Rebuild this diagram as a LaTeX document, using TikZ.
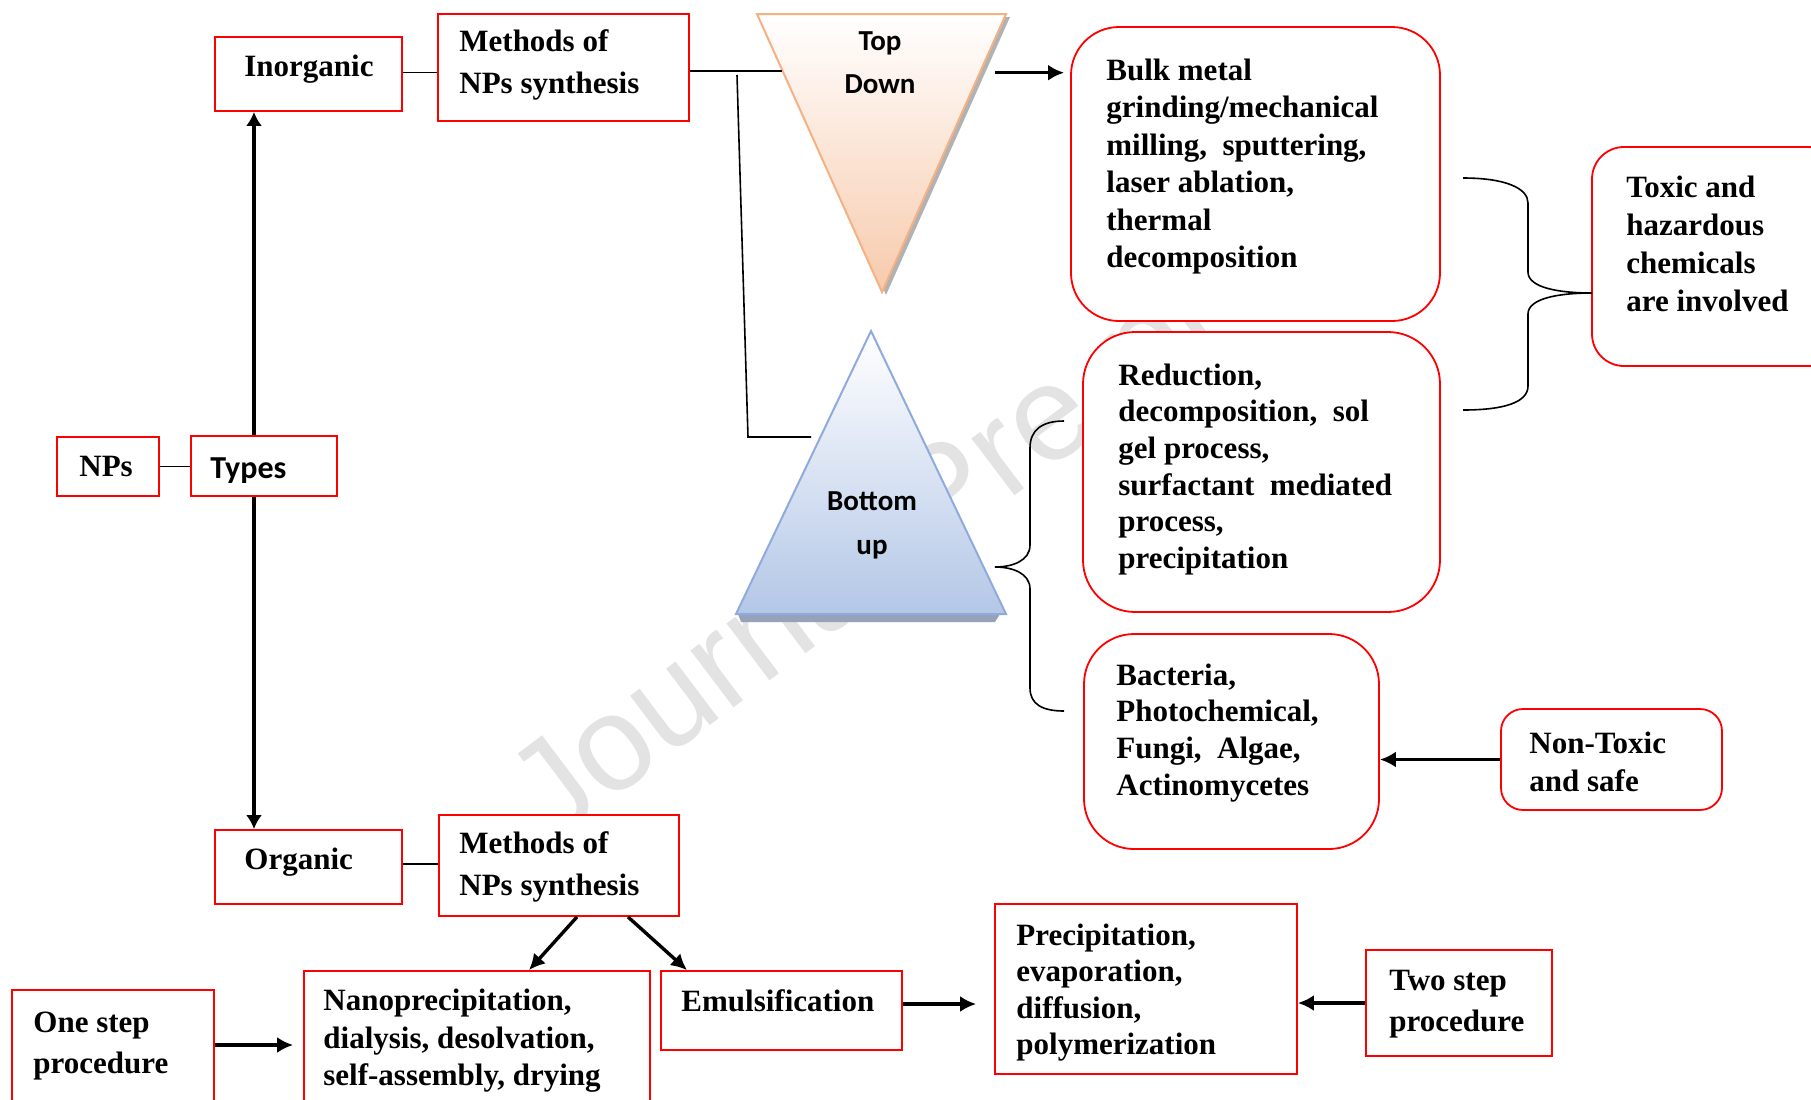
\documentclass[tikz,border=0pt]{standalone}
\usepackage{fontspec}
\setmainfont{Liberation Serif}
\newfontfamily\carl{Carlito}
\newfontfamily\wmfont{Liberation Sans}
\usetikzlibrary{arrows.meta,calc}
\definecolor{tdfill}{RGB}{247,202,172}
\definecolor{tdline}{RGB}{244,177,131}
\definecolor{bufill}{RGB}{180,199,231}
\definecolor{buline}{RGB}{143,170,220}
\definecolor{wmgray}{gray}{0.89}
\definecolor{boxred}{RGB}{255,0,0}
\definecolor{bushadow}{RGB}{150,162,185}
\newcommand\ml[3]{\parbox[t]{#1}{\fontsize{15.5pt}{#2}\selectfont\raggedright #3}}
\begin{document}
\begin{tikzpicture}[x=0.5pt,y=-0.5pt,
  rbox/.style={draw=boxred, line width=0.9pt, fill=white, inner sep=0pt},
  rrbox/.style={rbox, rounded corners=#1},
  txt/.style={anchor=base west, inner sep=0pt, font=\bfseries},
  stxt/.style={anchor=base, inner sep=0pt, font=\carl\bfseries},
  ln/.style={draw=black, line width=0.8pt},
  varr/.style={line width=1.6pt, -{Latex[length=7pt,width=8pt]}},
  tarr/.style={line width=1.7pt, -{Latex[length=8pt,width=8pt]}},
]
\useasboundingbox (0,0) rectangle (1811,1099);
\clip (0,0) rectangle (1811,1099);
\fill[white] (0,0) rectangle (1811,1099);

% watermark
\node[rotate=37, text=wmgray, inner sep=0pt, font=\wmfont\fontsize{67.5pt}{67.5pt}\selectfont] (wm) at (948,503) {Journal Pre-proof};

% triangles
\coordinate (tdA) at (757,14);
\coordinate (tdB) at (1006,14);
\coordinate (tdC) at (882,292);
\coordinate (buA) at (871,331);
\coordinate (buB) at (1006,614);
\coordinate (buC) at (736,614);
\fill[black!30] ($(tdA)+(4,3)$) -- ($(tdB)+(4,3)$) -- ($(tdC)+(4,3)$) -- cycle;
\shade[top color=white, bottom color=tdfill, draw=tdline, line width=1pt, line join=miter] (tdA) -- (tdB) -- (tdC) -- cycle;
\fill[bushadow] (738,614) -- (1000,614) -- (995,622) -- (741,622) -- cycle;
\shade[top color=white, bottom color=bufill, draw=buline, line width=1pt] (buA) -- (buB) -- (buC) -- cycle;
\node[stxt] (tdtext) at (880,50) {\parbox[t]{100pt}{\centering\fontsize{14.5pt}{21.5pt}\selectfont Top\\Down}};
\node[stxt] (butext) at (872,510.7) {\parbox[t]{100pt}{\centering\fontsize{14.5pt}{22pt}\selectfont Bottom\\up}};

% boxes
\node[rbox, minimum width=51pt, minimum height=29.5pt] (NPs) at (108,466.5) {};
\node[rbox, minimum width=73pt, minimum height=30pt] (Types) at (264,466) {};
\node[rbox, minimum width=93.5pt, minimum height=37pt] (Inorganic) at (308.5,74) {};
\node[rbox, minimum width=125.5pt, minimum height=53.5pt] (Methods1) at (563.5,67.5) {};
\node[rbox, minimum width=93.5pt, minimum height=37pt] (Organic) at (308.5,867) {};
\node[rbox, minimum width=120pt, minimum height=50.5pt] (Methods2) at (559,865.5) {};
\node[rbox, minimum width=173pt, minimum height=72pt] (Nano) at (477,1043) {};
\node[rbox, minimum width=120.5pt, minimum height=39.5pt] (Emul) at (781.5,1010.5) {};
\node[rbox, minimum width=101pt, minimum height=62.5pt] (OneStep) at (113,1052.5) {};
\node[rbox, minimum width=151pt, minimum height=85pt] (Precip) at (1146,989) {};
\node[rbox, minimum width=93pt, minimum height=53pt] (TwoStep) at (1459,1003) {};
\node[rrbox=24pt, minimum width=184.5pt, minimum height=147pt] (Bulk) at (1255.5,174) {};
\node[rrbox=26pt, minimum width=178.5pt, minimum height=140pt] (Reduction) at (1261.5,472) {};
\node[rrbox=25pt, minimum width=147.5pt, minimum height=107.5pt] (Bacteria) at (1231.5,741.5) {};
\node[rrbox=11pt, minimum width=110.5pt, minimum height=50.5pt] (NonToxic) at (1611.5,759.5) {};
\node[rrbox=16pt, minimum width=124pt, minimum height=109.5pt] (Toxic) at (1716,256.5) {};

% texts
\node[txt] (tNPs) at (79,476) {\ml{60pt}{18pt}{NPs}};
\node[anchor=base west, inner sep=0pt, font=\carl\bfseries] (tTypes) at (210,478) {\fontsize{16pt}{19pt}\selectfont Types};
\node[txt] (tInorganic) at (244,76) {\ml{100pt}{18pt}{Inorganic}};
\node[txt] (tMethods1) at (459,51.8) {\ml{140pt}{21pt}{Methods of\\NPs synthesis}};
\node[txt] (tOrganic) at (244,869) {\ml{100pt}{18pt}{Organic}};
\node[txt] (tMethods2) at (459,853.7) {\ml{140pt}{21pt}{Methods of\\NPs synthesis}};
\node[txt] (tNano) at (323,1010.6) {\ml{180pt}{18.75pt}{Nanoprecipitation,\\dialysis, desolvation,\\self-assembly, drying}};
\node[txt] (tEmul) at (681,1011) {\ml{130pt}{18pt}{Emulsification}};
\node[txt] (tOneStep) at (33,1032) {\ml{100pt}{20.85pt}{One step\\procedure}};
\node[txt] (tPrecip) at (1016,945) {\ml{150pt}{18.25pt}{Precipitation,\\evaporation,\\diffusion,\\polymerization}};
\node[txt] (tTwoStep) at (1389,990.7) {\ml{100pt}{20.5pt}{Two step\\procedure}};
\node[txt] (tBulk) at (1106,80) {\ml{180pt}{18.75pt}{Bulk metal\\grinding/mechanical\\milling,\ \ sputtering,\\laser ablation,\\thermal\\decomposition}};
\node[txt] (tReduction) at (1118,385) {\ml{180pt}{18.35pt}{Reduction,\\decomposition,\ \ sol\\gel process,\\surfactant\ \ mediated\\process,\\precipitation}};
\node[txt] (tBacteria) at (1116,685) {\ml{150pt}{18.35pt}{Bacteria,\\Photochemical,\\Fungi,\ \ Algae,\\Actinomycetes}};
\node[txt] (tNonToxic) at (1529,753.6) {\ml{100pt}{19pt}{Non-Toxic\\and safe}};
\node[txt] (tToxic) at (1626,197) {\ml{100pt}{19pt}{Toxic and\\hazardous\\chemicals\\are involved}};

% connectors
\draw[ln] (NPs.east) -- (NPs.east -| Types.west);
\draw[varr] ([xshift=-5pt]Types.north) -- ([xshift=-5pt]Types.north |- Inorganic.south);
\draw[varr] ([xshift=-5pt]Types.south) -- ([xshift=-5pt]Types.south |- Organic.north);
\draw[ln] ([yshift=0.75pt]Inorganic.east) -- ([yshift=0.75pt]Inorganic.east -| Methods1.west);
\coordinate (tdL) at (782,70.7);
\draw[ln] (Methods1.east |- tdL) -- (tdL);
\coordinate (br1) at (737,75);
\coordinate (br2) at (748,437);
\coordinate (buL) at (811,437);
\draw[ln] (br1) -- (br2) -- (buL);
\coordinate (tdR) at (995,72.7);
\draw[tarr, shorten >=3pt] (tdR) -- (tdR -| Bulk.west);
% right brace
\coordinate (rbT) at (1463,178);
\coordinate (rbB) at (1463,410);
\coordinate (rbTip) at (1592,293);
\draw[ln] (rbT) .. controls (1505,178) and (1528,188) .. (1528,203) -- (1528,272)
  .. controls (1528,288) and (1560,293) .. (rbTip)
  .. controls (1560,293) and (1528,298) .. (1528,314) -- (1528,386)
  .. controls (1528,402) and (1505,410) .. (rbB);
% left brace
\coordinate (lbT) at (1064,421);
\coordinate (lbB) at (1064,711);
\coordinate (lbTip) at (995,567);
\draw[ln] (lbT) .. controls (1042,421) and (1030,430) .. (1030,448) -- (1030,545)
  .. controls (1030,561) and (1012,567) .. (lbTip)
  .. controls (1012,567) and (1030,573) .. (1030,589) -- (1030,688)
  .. controls (1030,704) and (1042,711) .. (lbB);
\draw[tarr] (NonToxic.west) -- (NonToxic.west -| Bacteria.east);
\draw[ln] ([yshift=1.5pt]Organic.east) -- ([yshift=1.5pt]Organic.east -| Methods2.west);
\draw[tarr] ([xshift=9pt]Methods2.south) -- ([xshift=26pt]Nano.north);
\draw[tarr] ([xshift=34.5pt]Methods2.south) -- ([xshift=-47.25pt]Emul.north);
\draw[tarr, shorten >=9pt] ([yshift=3.25pt]Emul.east) -- ([yshift=3.25pt]Emul.east -| Precip.west);
\draw[tarr] (TwoStep.west) -- (TwoStep.west -| Precip.east);
\draw[tarr, shorten >=5pt] ([yshift=3.75pt]OneStep.east) -- ([yshift=3.75pt]OneStep.east -| Nano.west);
\end{tikzpicture}
\end{document}
